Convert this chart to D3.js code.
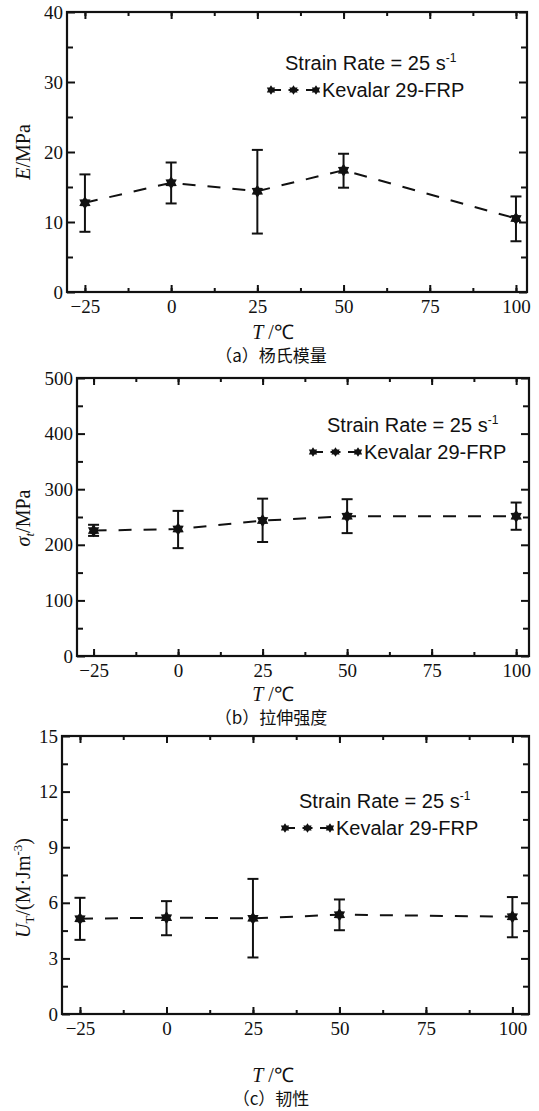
<!DOCTYPE html>
<html>
<head>
<meta charset="utf-8">
<script src="https://cdn.jsdelivr.net/npm/d3@7"></script>
<style>
  body { margin: 0; background: #fff; }
  .legend { font-family: "Liberation Sans", Arial, sans-serif; font-size: 20px; fill: #111; }
  .title { font-family: "Liberation Serif", serif; font-size: 20px; fill: #111; }
  .caption { font-family: "Noto Sans CJK SC", sans-serif; font-size: 17px; fill: #111; }
</style>
</head>
<body>
<div id="chart"></div>
<script>
'use strict'

// temperatures (deg C) tested
var temps = [-25, 0, 25, 50, 100]

// (a) Young's modulus, MPa
var modulus   = [12.75, 15.6, 14.4, 17.4, 10.5]
var modulusLo = [8.6, 12.65, 8.35, 14.9, 7.25]
var modulusHi = [16.8, 18.5, 20.3, 19.75, 13.65]

// (b) tensile strength, MPa
var strength   = [225.5, 228.5, 243.5, 251.5, 251.5]
var strengthLo = [216, 194, 205, 221, 227]
var strengthHi = [236, 261, 283, 282, 276]

// (c) toughness, MJ/m3
var tough   = [5.14, 5.2, 5.16, 5.36, 5.25]
var toughLo = [4.0, 4.25, 3.05, 4.52, 4.14]
var toughHi = [6.27, 6.09, 7.29, 6.18, 6.31]

var xTicks = [-25, 0, 25, 50, 75, 100]
var xMinor = [-25, -12.5, 0, 12.5, 25, 37.5, 50, 62.5, 75, 87.5, 100]
var modTicks = [0, 10, 20, 30, 40], modMinor = [5, 15, 25, 35]
var strTicks = [0, 100, 200, 300, 400, 500], strMinor = [50, 150, 250, 350, 450]
var touTicks = [0, 3, 6, 9, 12, 15], touMinor = [1.5, 4.5, 7.5, 10.5, 13.5]

var width = 539, height = 1111

var svg = d3.select("#chart").append("svg")
            .attr("width", width)
            .attr("height", height)

// six-spoke filled star used as the marker
var starSym = {
  draw: function(ctx, size) {
    var R = Math.sqrt(size) * 0.62, r = R * 0.62
    for (var i = 0; i < 12; i++) {
      var a = Math.PI / 6 * i - Math.PI / 2
      var rr = (i % 2 == 0) ? R : r
      if (i == 0) ctx.moveTo(rr * Math.cos(a), rr * Math.sin(a))
      else ctx.lineTo(rr * Math.cos(a), rr * Math.sin(a))
    }
    ctx.closePath()
  }
}
var marker = d3.symbol().type(starSym).size(110)

var panels = [
  { vals: modulus, lo: modulusLo, hi: modulusHi, yDom: [0, 40], yt: modTicks, ym: modMinor,
    left: 67, right: 527, top: 12, bottom: 292, xDom: [-30.2, 103.2],
    legX: 271, legY: 63, tx: 273, ty: 332, cy: 356, yTitleY: 152, yTitle: "E", cap: "（a）杨氏模量" },
  { vals: strength, lo: strengthLo, hi: strengthHi, yDom: [0, 500], yt: strTicks, ym: strMinor,
    left: 77, right: 529, top: 378, bottom: 656, xDom: [-29.9, 103.8],
    legX: 313, legY: 425, tx: 273, ty: 694, cy: 718, yTitleY: 518, yTitle: "s", cap: "（b）拉伸强度" },
  { vals: tough, lo: toughLo, hi: toughHi, yDom: [0, 15], yt: touTicks, ym: touMinor,
    left: 62, right: 529, top: 736, bottom: 1014, xDom: [-30.2, 104.8],
    legX: 285, legY: 801, tx: 273, ty: 1075, cy: 1099, yTitleY: 888, yTitle: "U", cap: "（c）韧性" }
]

panels.forEach(function(p) {
  var x = d3.scaleLinear().domain(p.xDom).range([p.left, p.right])
  var y = d3.scaleLinear().domain(p.yDom).range([p.bottom, p.top])
  var g = svg.append("g")

  var fmt = function(d) { return d < 0 ? "\u2212" + Math.abs(d) : d }

  // minor ticks on all four sides
  g.append("g").attr("transform", "translate(0," + p.bottom + ")")
   .call(d3.axisBottom(x).tickValues(xMinor).tickSize(-4).tickFormat(""))
  g.append("g").attr("transform", "translate(0," + p.top + ")")
   .call(d3.axisTop(x).tickValues(xMinor).tickSize(-4).tickFormat(""))
  g.append("g").attr("transform", "translate(" + p.left + ",0)")
   .call(d3.axisLeft(y).tickValues(p.ym).tickSize(-6).tickFormat(""))
  g.append("g").attr("transform", "translate(" + p.right + ",0)")
   .call(d3.axisRight(y).tickValues(p.ym).tickSize(-6).tickFormat(""))

  // major ticks + labels
  g.append("g").attr("transform", "translate(0," + p.bottom + ")")
   .call(d3.axisBottom(x).tickValues(xTicks).tickSize(-7).tickPadding(8).tickFormat(fmt))
  g.append("g").attr("transform", "translate(0," + p.top + ")")
   .call(d3.axisTop(x).tickValues(xTicks).tickSize(-7).tickFormat(""))
  g.append("g").attr("transform", "translate(" + p.left + ",0)")
   .call(d3.axisLeft(y).tickValues(p.yt).tickSize(-8).tickPadding(4))
  g.append("g").attr("transform", "translate(" + p.right + ",0)")
   .call(d3.axisRight(y).tickValues(p.yt).tickSize(-8).tickFormat(""))

  g.selectAll(".domain").remove()
  g.selectAll(".tick line").attr("stroke", "#111").attr("stroke-width", 2)
  g.selectAll(".tick text")
   .style("font-family", "'Liberation Serif', 'DejaVu Serif', serif")
   .style("font-size", "19px")
   .style("fill", "#111")

  g.append("rect")
   .attr("x", p.left).attr("y", p.top)
   .attr("width", p.right - p.left).attr("height", p.bottom - p.top)
   .attr("fill", "none").attr("stroke", "#111").attr("stroke-width", 2.2)

  // dashed connecting line
  var line = d3.line().x((d, i) => x(temps[i])).y(d => y(d))
  g.append("path").datum(p.vals)
   .attr("d", line)
   .attr("fill", "none").attr("stroke", "#111").attr("stroke-width", 2)
   .attr("stroke-dasharray", "13,12")

  // error bars
  var eb = g.selectAll("errbar").data(temps).enter().append("g")
  eb.append("line")
    .attr("x1", d => x(d)).attr("x2", d => x(d))
    .attr("y1", (d, i) => y(p.lo[i])).attr("y2", (d, i) => y(p.hi[i]))
  eb.append("line")
    .attr("x1", d => x(d) - 5.5).attr("x2", d => x(d) + 5.5)
    .attr("y1", (d, i) => y(p.lo[i])).attr("y2", (d, i) => y(p.lo[i]))
  eb.append("line")
    .attr("x1", d => x(d) - 5.5).attr("x2", d => x(d) + 5.5)
    .attr("y1", (d, i) => y(p.hi[i])).attr("y2", (d, i) => y(p.hi[i]))
  eb.selectAll("line").attr("stroke", "#111").attr("stroke-width", 2)

  g.selectAll("pts").data(temps).enter().append("path")
   .attr("d", marker)
   .attr("transform", (d, i) => "translate(" + x(d) + "," + y(p.vals[i]) + ")")
   .attr("fill", "#111")

  // legend
  var st = g.append("text").attr("class", "legend")
            .attr("x", p.legX + 14).attr("y", p.legY + 7)
  st.append("tspan").text("Strain Rate = 25 s")
  st.append("tspan").attr("dy", -8).style("font-size", "12px").text("-1")

  var ly = p.legY + 27
  g.append("line")
   .attr("x1", p.legX).attr("x2", p.legX + 45).attr("y1", ly).attr("y2", ly)
   .attr("stroke", "#111").attr("stroke-width", 2).attr("stroke-dasharray", "10,7.5")
  g.selectAll("legpts").data([0, 22.5, 45]).enter().append("path")
   .attr("d", d3.symbol().type(starSym).size(60))
   .attr("transform", d => "translate(" + (p.legX + d) + "," + ly + ")")
   .attr("fill", "#111")
  g.append("text").attr("class", "legend")
   .attr("x", p.legX + 51).attr("y", ly + 7)
   .text("Kevalar 29-FRP")

  // axis titles
  var xt = g.append("text").attr("class", "title")
            .attr("x", p.tx).attr("y", p.ty + 7).attr("text-anchor", "middle")
  xt.append("tspan").style("font-style", "italic").text("T")
  xt.append("tspan").text(" /\u2103")

  var yt = g.append("text").attr("class", "title")
            .attr("transform", "translate(30," + p.yTitleY + ") rotate(-90)")
            .attr("text-anchor", "middle")
  if (p.yTitle == "E") {
    yt.append("tspan").style("font-style", "italic").text("E")
    yt.append("tspan").text("/MPa")
  } else if (p.yTitle == "s") {
    yt.append("tspan").style("font-style", "italic").text("\u03c3")
    yt.append("tspan").attr("dy", 4).style("font-size", "13px").style("font-style", "italic").text("t")
    yt.append("tspan").attr("dy", -4).text("/MPa")
  } else {
    yt.append("tspan").style("font-style", "italic").text("U")
    yt.append("tspan").attr("dy", 4).style("font-size", "13px").text("T")
    yt.append("tspan").attr("dy", -4).text("/(M\u00b7Jm")
    yt.append("tspan").attr("dy", -8).style("font-size", "13px").text("-3")
    yt.append("tspan").attr("dy", 8).text(")")
  }

  g.append("text").attr("class", "caption")
   .attr("x", p.tx - 2).attr("y", p.cy + 6).attr("text-anchor", "middle")
   .text(p.cap)
})
</script>
</body>
</html>
